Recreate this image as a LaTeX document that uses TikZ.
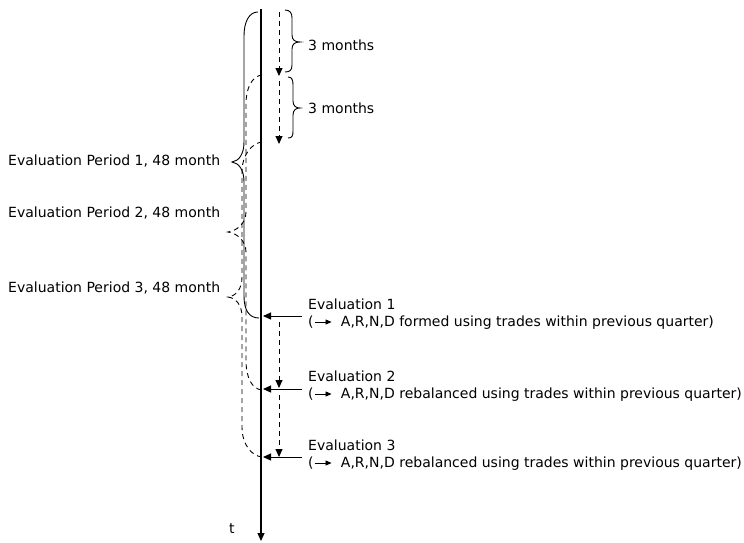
\documentclass[tikz,border=0pt]{standalone}
\usepackage{fontspec}
\setmainfont{DejaVu Sans}
\usetikzlibrary{arrows.meta}
\newsavebox\arrbox
\sbox\arrbox{\tikz[baseline=-4pt]\draw[line width=0.8pt,-{Triangle[length=6pt,width=5pt]}](0,0)--(17pt,0);}
\begin{document}
\begin{tikzpicture}[x=1pt,y=-1pt,
  lbl/.style={anchor=base west,inner sep=0pt,font=\fontsize{14}{17}\selectfont},
  tl/.style={line width=1.1pt,-{Triangle[length=8pt,width=7pt]}},
  evarr/.style={line width=1pt,-{Triangle[length=8pt,width=7pt]}},
  dasharr/.style={line width=0.9pt,dash pattern=on 5pt off 4pt,-{Triangle[length=8pt,width=7pt]}},
  brace/.style={line width=0.9pt},
  dbrace/.style={line width=0.9pt,dash pattern=on 5pt off 4pt}]
\useasboundingbox[fill=white] (0,0) rectangle (744,542);
% timeline
\coordinate (t0) at (261,9);
\coordinate (t1) at (261,541);
\draw[tl] (t0) -- (t1);
\node[lbl] (tlab) at (229,533) {t};
% 3-month dashed arrows
\coordinate (q0) at (279,12);
\coordinate (q1) at (279,76);
\coordinate (q2) at (279,81);
\coordinate (q3) at (279,144);
\draw[dasharr] (q0) -- (q1);
\draw[dasharr] (q2) -- (q3);
% right braces
\draw[brace] (285,10) .. controls (290,10) and (292,13) .. (292,18) -- (292,35)
  .. controls (292,40) and (295,42) .. (300,42) .. controls (295,42) and (292,44) .. (292,49)
  -- (292,65) .. controls (292,70) and (290,72) .. (285,72);
\draw[brace] (288,77) .. controls (292,77) and (293,80) .. (293,85) -- (293,101)
  .. controls (293,106) and (296,108) .. (300,108) .. controls (296,108) and (293,110) .. (293,115)
  -- (293,131) .. controls (293,136) and (292,138) .. (288,138);
\node[lbl] (m1) at (308,50) {3 months};
\node[lbl] (m2) at (308,113) {3 months};
% big solid brace
\draw[brace] (258,12) .. controls (249,12) and (244,22) .. (244,36) -- (244,142)
  .. controls (244,154) and (239,161) .. (232,162) .. controls (239,163) and (244,170) .. (244,182)
  -- (244,296) .. controls (244,310) and (249,318) .. (259,318);
% dashed braces
\draw[dbrace] (262,75) .. controls (252,76) and (246,88) .. (246,104) -- (246,212)
  .. controls (246,224) and (236,231) .. (228,232) .. controls (236,233) and (246,240) .. (246,252)
  -- (246,360) .. controls (246,378) and (252,389) .. (262,390);
\draw[dbrace] (262,142) .. controls (252,143) and (242,155) .. (242,171) -- (242,277)
  .. controls (242,289) and (236,296) .. (228,297) .. controls (236,298) and (242,305) .. (242,317)
  -- (242,427) .. controls (242,445) and (252,456) .. (262,457);
% left labels
\node[lbl] (p1) at (8,165) {Evaluation Period 1, 48 month};
\node[lbl] (p2) at (8,217) {Evaluation Period 2, 48 month};
\node[lbl] (p3) at (8,292) {Evaluation Period 3, 48 month};
% evaluation arrows
\coordinate (e1s) at (302,316); \coordinate (e1t) at (263,316);
\coordinate (e2s) at (302,389); \coordinate (e2t) at (263,389);
\coordinate (e3s) at (302,457); \coordinate (e3t) at (263,457);
\draw[evarr] (e1s) -- (e1t);
\draw[evarr] (e2s) -- (e2t);
\draw[evarr] (e3s) -- (e3t);
% dashed arrows between evaluations
\coordinate (d0) at (279,322); \coordinate (d1) at (279,388);
\coordinate (d2) at (279,395); \coordinate (d3) at (279,457);
\draw[dasharr] (d0) -- (d1);
\draw[dasharr] (d2) -- (d3);
% evaluation texts
\node[lbl] (ev1) at (308,309) {Evaluation 1};
\node[lbl] (ev1b) at (308,326) {(\hspace{0.5pt}\usebox\arrbox\hspace{9pt}A,R,N,D formed using trades within previous quarter)};
\node[lbl] (ev2) at (308,381) {Evaluation 2};
\node[lbl] (ev2b) at (308,398) {(\hspace{0.5pt}\usebox\arrbox\hspace{9pt}A,R,N,D rebalanced using trades within previous quarter)};
\node[lbl] (ev3) at (308,450) {Evaluation 3};
\node[lbl] (ev3b) at (308,467) {(\hspace{0.5pt}\usebox\arrbox\hspace{9pt}A,R,N,D rebalanced using trades within previous quarter)};
\end{tikzpicture}
\end{document}
